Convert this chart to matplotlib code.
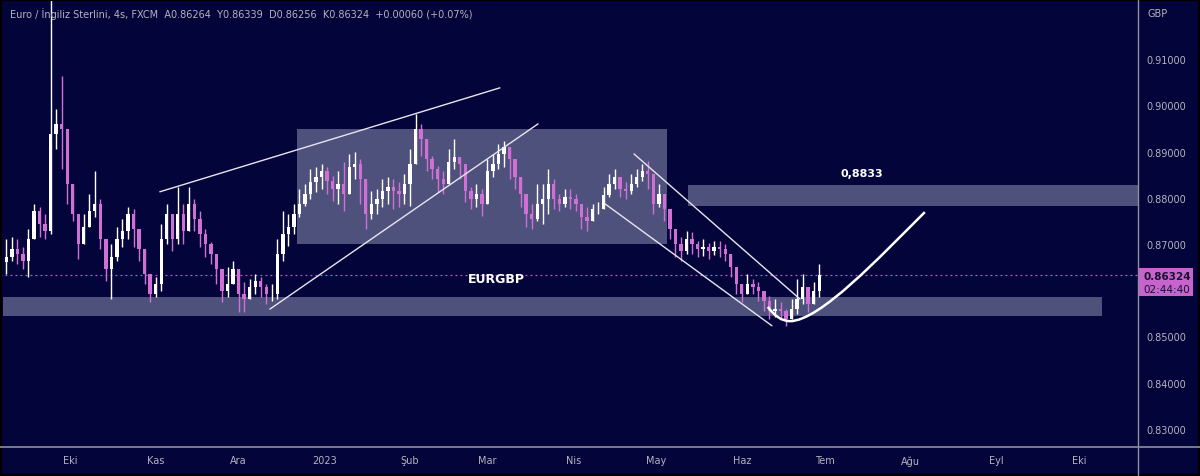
import numpy as np
import pandas as pd
import matplotlib
matplotlib.use("Agg")
import matplotlib.pyplot as plt
from matplotlib.patches import Rectangle, PathPatch
from matplotlib.path import Path
from matplotlib.lines import Line2D

# ---------------- data (EUR/GBP, sampled every 2 days) ----------------
dates = pd.date_range("2022-09-08", periods=148, freq="2D")
close = [0.8672, 0.8689, 0.8678, 0.8663, 0.8711, 0.8771, 0.8743, 0.8728, 0.8938, 0.8960,
         0.8949, 0.8830, 0.8765, 0.8700, 0.8737, 0.8771, 0.8787, 0.8711, 0.8646, 0.8672,
         0.8711, 0.8728, 0.8765, 0.8732, 0.8689, 0.8635, 0.8592, 0.8613, 0.8711, 0.8765,
         0.8711, 0.8765, 0.8728, 0.8787, 0.8754, 0.8722, 0.8700, 0.8678, 0.8646, 0.8598,
         0.8613, 0.8646, 0.8592, 0.8581, 0.8607, 0.8620, 0.8607, 0.8592, 0.8592, 0.8678,
         0.8722, 0.8737, 0.8765, 0.8787, 0.8808, 0.8834, 0.8845, 0.8858, 0.8836, 0.8819,
         0.8830, 0.8808, 0.8867, 0.8873, 0.8841, 0.8765, 0.8787, 0.8797, 0.8815, 0.8823,
         0.8815, 0.8808, 0.8830, 0.8873, 0.8949, 0.8927, 0.8884, 0.8862, 0.8841, 0.8830,
         0.8877, 0.8888, 0.8873, 0.8815, 0.8797, 0.8808, 0.8787, 0.8858, 0.8873, 0.8895,
         0.8910, 0.8884, 0.8845, 0.8808, 0.8765, 0.8754, 0.8787, 0.8797, 0.8830, 0.8797,
         0.8787, 0.8802, 0.8797, 0.8787, 0.8758, 0.8750, 0.8776, 0.8776, 0.8806, 0.8830,
         0.8845, 0.8819, 0.8815, 0.8830, 0.8845, 0.8858, 0.8852, 0.8787, 0.8808, 0.8776,
         0.8732, 0.8700, 0.8685, 0.8711, 0.8700, 0.8689, 0.8694, 0.8685, 0.8694, 0.8689,
         0.8678, 0.8650, 0.8613, 0.8592, 0.8613, 0.8607, 0.8598, 0.8577, 0.8555, 0.8559,
         0.8555, 0.8538, 0.8559, 0.8581, 0.8607, 0.8570, 0.8598, 0.86324]
high = [0.8711, 0.8715, 0.8711, 0.8694, 0.8732, 0.8787, 0.8780, 0.8765, 0.9274, 0.8992,
        0.9064, 0.8906, 0.8830, 0.8754, 0.8765, 0.8808, 0.8858, 0.8797, 0.8700, 0.8700,
        0.8737, 0.8754, 0.8780, 0.8776, 0.8715, 0.8689, 0.8629, 0.8629, 0.8743, 0.8787,
        0.8743, 0.8823, 0.8787, 0.8823, 0.8797, 0.8771, 0.8732, 0.8704, 0.8678, 0.8642,
        0.8650, 0.8663, 0.8646, 0.8618, 0.8624, 0.8635, 0.8629, 0.8613, 0.8613, 0.8711,
        0.8771, 0.8765, 0.8787, 0.8819, 0.8830, 0.8862, 0.8867, 0.8873, 0.8867, 0.8847,
        0.8858, 0.8877, 0.8895, 0.8899, 0.8884, 0.8808, 0.8815, 0.8819, 0.8841, 0.8845,
        0.8841, 0.8834, 0.8852, 0.8906, 0.8981, 0.8960, 0.8910, 0.8890, 0.8869, 0.8858,
        0.8906, 0.8927, 0.8888, 0.8841, 0.8823, 0.8830, 0.8819, 0.8884, 0.8895, 0.8916,
        0.8923, 0.8906, 0.8873, 0.8841, 0.8808, 0.8787, 0.8830, 0.8830, 0.8862, 0.8841,
        0.8808, 0.8819, 0.8819, 0.8808, 0.8787, 0.8780, 0.8787, 0.8791, 0.8823, 0.8852,
        0.8862, 0.8841, 0.8834, 0.8852, 0.8862, 0.8873, 0.8880, 0.8823, 0.8830, 0.8808,
        0.8765, 0.8728, 0.8715, 0.8728, 0.8726, 0.8706, 0.8711, 0.8702, 0.8706, 0.8706,
        0.8700, 0.8672, 0.8642, 0.8613, 0.8635, 0.8624, 0.8618, 0.8592, 0.8587, 0.8581,
        0.8574, 0.8559, 0.8581, 0.8624, 0.8635, 0.8592, 0.8618, 0.8657]
low = [0.8635, 0.8663, 0.8657, 0.8646, 0.8629, 0.8722, 0.8715, 0.8711, 0.8722, 0.8906,
       0.8862, 0.8787, 0.8750, 0.8668, 0.8711, 0.8743, 0.8758, 0.8689, 0.8620, 0.8581,
       0.8663, 0.8694, 0.8711, 0.8694, 0.8663, 0.8613, 0.8574, 0.8585, 0.8598, 0.8700,
       0.8685, 0.8700, 0.8700, 0.8737, 0.8728, 0.8694, 0.8672, 0.8657, 0.8613, 0.8574,
       0.8585, 0.8618, 0.8553, 0.8553, 0.8581, 0.8592, 0.8585, 0.8570, 0.8577, 0.8581,
       0.8663, 0.8696, 0.8722, 0.8758, 0.8782, 0.8797, 0.8813, 0.8819, 0.8808, 0.8793,
       0.8787, 0.8771, 0.8830, 0.8841, 0.8787, 0.8732, 0.8754, 0.8765, 0.8780, 0.8787,
       0.8776, 0.8780, 0.8787, 0.8782, 0.8906, 0.8890, 0.8858, 0.8841, 0.8813, 0.8808,
       0.8845, 0.8862, 0.8841, 0.8791, 0.8776, 0.8780, 0.8761, 0.8808, 0.8845, 0.8862,
       0.8867, 0.8841, 0.8819, 0.8780, 0.8737, 0.8732, 0.8750, 0.8743, 0.8765, 0.8776,
       0.8771, 0.8780, 0.8776, 0.8771, 0.8732, 0.8728, 0.8763, 0.8765, 0.8787, 0.8802,
       0.8819, 0.8802, 0.8797, 0.8808, 0.8823, 0.8836, 0.8819, 0.8765, 0.8780, 0.8750,
       0.8711, 0.8672, 0.8663, 0.8678, 0.8678, 0.8672, 0.8674, 0.8668, 0.8676, 0.8672,
       0.8663, 0.8629, 0.8592, 0.8574, 0.8592, 0.8592, 0.8577, 0.8555, 0.8538, 0.8542,
       0.8538, 0.8523, 0.8538, 0.8548, 0.8570, 0.8553, 0.8577, 0.8585]
first_open = 0.8660

month_starts = ["2022-10-01", "2022-11-01", "2022-12-01", "2023-01-01", "2023-02-01", "2023-03-01",
                "2023-04-01", "2023-05-01", "2023-06-01", "2023-07-01", "2023-08-01", "2023-09-01",
                "2023-10-01"]
month_labels = ["Eki", "Kas", "Ara", "2023", "Şub", "Mar", "Nis", "May", "Haz", "Tem", "Ağu", "Eyl", "Eki"]
price_ticks = [0.83, 0.84, 0.85, 0.86, 0.87, 0.88, 0.89, 0.90, 0.91]
last_price = 0.86324
countdown = "02:44:40"
header = ("Euro / İngiliz Sterlini, 4s, FXCM  A0.86264  Y0.86339  D0.86256  "
          "K0.86324  +0.00060 (+0.07%)")

# drawings (x = days since 2022-10-01, y = price)
zones = [((-24.2, 0.8544), (373.2, 0.8585)),
         ((82.1, 0.8700), (215.9, 0.8949)),
         ((223.5, 0.8782), (400.0, 0.8828))]
trend_lines = [((32.5, 0.8813), (155.5, 0.9038)),
               ((72.3, 0.8559), (169.3, 0.8960)),
               ((204.0, 0.8895), (264.0, 0.8581)),
               ((193.5, 0.8787), (253.9, 0.8523))]
curve_pts = [(252.4, 0.8564), (256.1, 0.8533), (260.4, 0.8533),
             (271.2, 0.8533), (292.9, 0.8672), (309.2, 0.8769)]

# ---------------- styling ----------------
BG = "#03043a"
ZONE = "#4f517d"
TXT = "#b2b5be"
UP = "#ffffff"
DN = "#d070d4"
MAG = "#c862cc"

W, H = 1200, 477
fig = plt.figure(figsize=(W / 100, H / 100), dpi=100, facecolor=BG)
ax = fig.add_axes([0, 29 / H, 1138 / W, 448 / H])
ax.set_facecolor(BG)
ax.set_xlim(-25.3, 386.3)
ax.set_ylim(0.82606, 0.92303)
for s in ax.spines.values():
    s.set_visible(False)

base = pd.Timestamp("2022-10-01")
xd = np.array([(d - base).days for d in dates], dtype=float)
c = np.array(close)
o = np.array([first_open] + close[:-1])
hi = np.maximum(np.array(high), np.maximum(o, c))
lo = np.minimum(np.array(low), np.minimum(o, c))
up = c >= o
cols = np.where(up, UP, DN)

# zones
for (x0, y0), (x1, y1) in zones:
    ax.add_patch(Rectangle((x0, y0), x1 - x0, y1 - y0, facecolor=ZONE, edgecolor="none", zorder=1))

# candles
ax.vlines(xd, lo, hi, colors=cols, linewidth=1.0, zorder=3)
body_h = np.maximum(np.abs(c - o), 0.00008)
ax.bar(xd, body_h, bottom=np.minimum(o, c), width=1.2, color=cols, linewidth=0, zorder=3)

# last price dotted line
ax.axhline(last_price, color="#d050d4", linestyle=(0, (1.5, 2.5)), linewidth=0.9, zorder=2)

# trend lines
for (x0, y0), (x1, y1) in trend_lines:
    ax.plot([x0, x1], [y0, y1], color="#e6e6ee", linewidth=1.0, zorder=4, solid_capstyle="round")

# curved projection
verts = curve_pts[:3] + curve_pts[3:]
codes = [Path.MOVETO, Path.CURVE3, Path.CURVE3, Path.CURVE4, Path.CURVE4, Path.CURVE4]
ax.add_patch(PathPatch(Path(verts, codes), facecolor="none", edgecolor="white", linewidth=1.8, zorder=4))

# labels on chart
ax.text(154.4, 0.8626, "EURGBP", color="white", fontsize=9, fontweight="bold",
        ha="center", va="center", zorder=5)
ax.text(286.4, 0.8854, "0,8833", color="white", fontsize=8, fontweight="bold",
        ha="center", va="center", zorder=5)

# axes ticks
mx = [(pd.Timestamp(m) - base).days for m in month_starts]
ax.set_xticks(mx)
ax.set_xticklabels(month_labels)
ax.tick_params(axis="x", length=0, pad=6, colors=TXT, labelsize=7)
ax.yaxis.tick_right()
ax.set_yticks(price_ticks)
ax.set_yticklabels([f"{p:.5f}" for p in price_ticks])
ax.tick_params(axis="y", length=0, pad=6, colors=TXT, labelsize=7)
for t in ax.get_yticklabels():
    if abs(float(t.get_text()) - 0.86) < 1e-9:
        t.set_visible(False)

# separators
fig.add_artist(Line2D([0, 1], [29 / H, 29 / H], transform=fig.transFigure, color="#8d909c", linewidth=1.2))
fig.add_artist(Line2D([1138 / W, 1138 / W], [0, 1], transform=fig.transFigure, color="#8d909c", linewidth=1.0))

# header and currency
fig.text(10 / W, 1 - 14 / H, header, color=TXT, fontsize=7, ha="left", va="center")
fig.text(1147 / W, 1 - 14 / H, "GBP", color=TXT, fontsize=7, ha="left", va="center")

# price box
fig.canvas.draw()
py = ax.transData.transform((0, last_price))[1]  # pixels from bottom
box_top = py + 7
box_h = 28
fig.add_artist(Rectangle((1138 / W, (box_top - box_h) / H), 55 / W, box_h / H,
                         transform=fig.transFigure, facecolor=MAG, edgecolor="none"))
fig.text(1143 / W, (py - 1) / H, f"{last_price:.5f}", color="#14142e", fontsize=7.5,
         fontweight="bold", ha="left", va="center")
fig.text(1143 / W, (py - 14) / H, countdown, color="#14142e", fontsize=7.5, ha="left", va="center")

# outer dark frame
fig.add_artist(Rectangle((0, 0), 1, 1, transform=fig.transFigure, fill=False, edgecolor="black", linewidth=3))

fig.savefig("out.png", dpi=100, facecolor=BG)
